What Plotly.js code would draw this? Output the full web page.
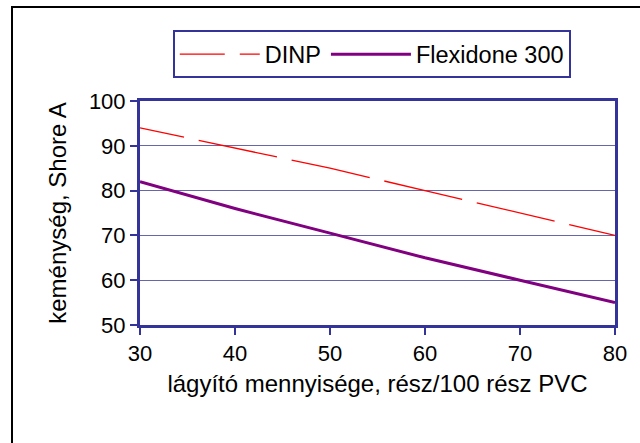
<!DOCTYPE html>
<html>
<head>
<meta charset="utf-8">
<script src="https://cdn.plot.ly/plotly-3.0.1.min.js"></script>
<style>
  html, body { margin: 0; padding: 0; background: #fff; }
  #wrap { position: relative; width: 640px; height: 443px; overflow: hidden; }
  #chart { width: 640px; height: 443px; }
  #frame { position: absolute; left: 11px; top: 6px; width: 700px; height: 500px;
           border-left: 2px solid #000; border-top: 2px solid #000; pointer-events: none; }
</style>
</head>
<body>
<div id="wrap">
  <div id="chart"></div>
  <div id="frame"></div>
</div>
<script>
const plasticizer = [30, 40, 50, 60, 70, 80];
const dinp = [94, 89.5, 85, 80, 75, 70];
const flexidone = [82, 76, 70.5, 65, 60, 55];
const seriesNames = ['DINP', 'Flexidone 300'];
const xTicks = [30, 40, 50, 60, 70, 80];
const yTicks = [50, 60, 70, 80, 90, 100];

const FONT = 'Liberation Sans, Arial, sans-serif';
const NAVY = '#333399';

const traces = [
  {
    x: plasticizer, y: dinp, name: seriesNames[0], type: 'scatter', mode: 'lines',
    line: { color: '#FF0000', width: 1.3, dash: '45px,15px,80px,15px,80px,15px,80px,15px,80px,15px,80px,15px,80px,15px' }
  },
  {
    x: plasticizer, y: flexidone, name: seriesNames[1], type: 'scatter', mode: 'lines',
    line: { color: '#800080', width: 3 }
  }
];

const layout = {
  width: 640, height: 443,
  margin: { l: 140, r: 25, t: 101, b: 118 },
  paper_bgcolor: '#ffffff', plot_bgcolor: '#ffffff',
  font: { family: FONT, color: '#000', size: 22 },
  showlegend: true,
  legend: {
    orientation: 'h', x: 0.069, y: 1.315, xanchor: 'left', yanchor: 'top',
    bordercolor: NAVY, borderwidth: 2, bgcolor: '#fff',
    font: { family: FONT, size: 23.5, color: '#000' },
    traceorder: 'normal', itemwidth: 80
  },
  xaxis: {
    range: [30, 80], tickvals: xTicks, ticktext: xTicks.map(String),
    showline: true, linecolor: NAVY, linewidth: 3, mirror: true,
    ticks: 'outside', ticklen: 7, tickwidth: 2, tickcolor: NAVY,
    showgrid: false, zeroline: false,
    tickfont: { family: FONT, size: 22, color: '#000' },
    title: { text: 'lágyító mennyisége, rész/100 rész PVC', font: { family: FONT, size: 24, color: '#000' }, standoff: 10 }
  },
  yaxis: {
    range: [50, 100], tickvals: yTicks, ticktext: yTicks.map(String),
    showline: true, linecolor: NAVY, linewidth: 3, mirror: true,
    ticks: 'outside', ticklen: 7, tickwidth: 2, tickcolor: NAVY,
    showgrid: true, gridcolor: '#6666AA', gridwidth: 1.2, zeroline: false,
    tickfont: { family: FONT, size: 22, color: '#000' },
    title: { text: 'keménység, Shore A', font: { family: FONT, size: 24, color: '#000' }, standoff: 16 }
  }
};

Plotly.newPlot('chart', traces, layout, { displayModeBar: false, staticPlot: true });
</script>
</body>
</html>
